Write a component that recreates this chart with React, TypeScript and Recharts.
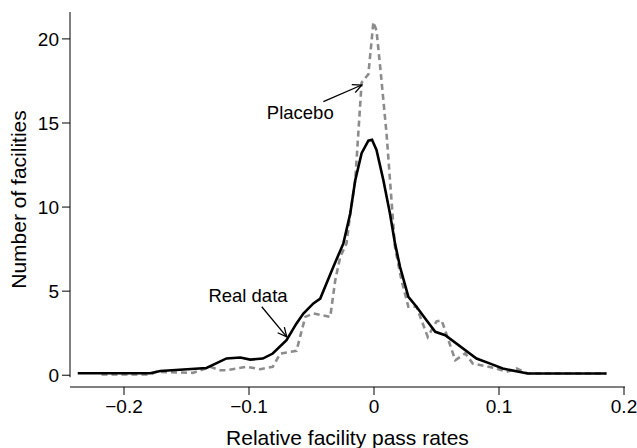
import React from 'react';
import { LineChart, Line, XAxis, YAxis, ReferenceLine, ReferenceDot } from 'recharts';

const realX = [-0.237, -0.179, -0.171, -0.134, -0.118, -0.107, -0.099, -0.089, -0.081, -0.07, -0.062, -0.0565, -0.0485, -0.043, -0.0325, -0.0245, -0.019, -0.015, -0.0099, -0.0045, -0.0016, 0.002, 0.0075, 0.0128, 0.0168, 0.0208, 0.0275, 0.034, 0.042, 0.049, 0.057, 0.082, 0.093, 0.103, 0.123, 0.186];
const realY = [0.12, 0.12, 0.25, 0.43, 1.0, 1.05, 0.93, 0.99, 1.29, 2.08, 3.08, 3.67, 4.27, 4.56, 6.45, 7.84, 9.62, 11.6, 13.2, 13.95, 14.0, 13.4, 11.6, 9.6, 7.84, 6.45, 4.66, 4.07, 3.27, 2.58, 2.38, 0.99, 0.69, 0.4, 0.1, 0.1];

const placeboX = [-0.218, -0.179, -0.174, -0.145, -0.131, -0.123, -0.118, -0.102, -0.091, -0.081, -0.075, -0.067, -0.062, -0.055, -0.0485, -0.035, -0.031, -0.027, -0.022, -0.019, -0.015, -0.0099, -0.0045, -0.0005, 0.002, 0.005, 0.01, 0.0128, 0.0168, 0.022, 0.0275, 0.034, 0.043, 0.05, 0.054, 0.056, 0.065, 0.073, 0.079, 0.098, 0.106, 0.114, 0.123, 0.186];
const placeboY = [0.05, 0.05, 0.2, 0.14, 0.5, 0.3, 0.3, 0.5, 0.36, 0.5, 1.29, 1.39, 1.45, 3.47, 3.67, 3.47, 5.65, 7.04, 7.84, 9.6, 11.6, 17.4, 17.9, 21.0, 20.5, 18.3, 14.4, 11.6, 7.6, 5.65, 4.07, 4.07, 2.28, 3.2, 3.27, 2.87, 0.89, 1.3, 0.7, 0.4, 0.2, 0.4, 0.1, 0.1];

const xTicks = [-0.2, -0.1, 0, 0.1, 0.2];
const yTicks = [0, 5, 10, 15, 20];

const xDomain = [-0.2432, 0.2008];
const yDomain = [-0.7, 21.6];

const realData = realX.map((x, i) => ({ x, y: realY[i] }));
const placeboData = placeboX.map((x, i) => ({ x, y: placeboY[i] }));

const FONT = '"Liberation Sans", Arial, Helvetica, sans-serif';

const fmtX = (v: number) => (v === 0 ? '0' : v < 0 ? '\u2212' + Math.abs(v).toFixed(1) : v.toFixed(1));

const Arrow = (props: any) => {
  const { x1, y1, x2, y2 } = props;
  const a = Math.atan2(y2 - y1, x2 - x1);
  const L = 10;
  const s = 0.45;
  const ax1 = x2 - L * Math.cos(a - s);
  const ay1 = y2 - L * Math.sin(a - s);
  const ax2 = x2 - L * Math.cos(a + s);
  const ay2 = y2 - L * Math.sin(a + s);
  return (
    <g>
      <line x1={x1} y1={y1} x2={x2} y2={y2} stroke="#000" strokeWidth={1.3} />
      <polyline points={`${ax1},${ay1} ${x2},${y2} ${ax2},${ay2}`} fill="none" stroke="#000" strokeWidth={1.3} />
    </g>
  );
};

const AxisLine = (props: any) => {
  const { x1, y1, x2, y2 } = props;
  return <line x1={x1} y1={y1} x2={x2} y2={y2} stroke="#000" strokeWidth={1} />;
};

const makeText = (txt: string) => (props: any) => (
  <text x={props.cx} y={props.cy} textAnchor="middle" dominantBaseline="central" fontFamily={FONT} fontSize={18.5} fill="#000">
    {txt}
  </text>
);

export default function App() {
  return (
    <div style={{ position: 'absolute', left: 0, top: 0, background: '#fff' }}>
      <LineChart width={637} height={448} margin={{ top: 12, right: 12, bottom: 0, left: 0 }}>
        <XAxis
          type="number"
          dataKey="x"
          domain={xDomain}
          ticks={xTicks}
          allowDataOverflow
          tickFormatter={fmtX}
          height={61}
          tickSize={8}
          tickMargin={5}
          stroke="#000"
          tick={{ fill: '#000', fontSize: 19, fontFamily: FONT }}
          label={{
            content: (p: any) => {
              const vb = p.viewBox;
              return (
                <text x={vb.x + vb.width / 2} y={437} textAnchor="middle" dominantBaseline="central" fontFamily={FONT} fontSize={21} fill="#000">
                  Relative facility pass rates
                </text>
              );
            },
          }}
        />
        <YAxis
          type="number"
          domain={yDomain}
          ticks={yTicks}
          allowDataOverflow
          width={70}
          tickSize={8}
          tickMargin={3}
          axisLine={false}
          stroke="#000"
          tick={{ fill: '#000', fontSize: 19, fontFamily: FONT }}
          label={{
            content: (p: any) => {
              const vb = p.viewBox;
              const cy = vb.y + vb.height / 2;
              return (
                <text x={18} y={cy} transform={`rotate(-90, 18, ${cy})`} textAnchor="middle" dominantBaseline="central" fontFamily={FONT} fontSize={21} fill="#000">
                  Number of facilities
                </text>
              );
            },
          }}
        />
        <ReferenceLine segment={[{ x: xDomain[0], y: -0.12 }, { x: xDomain[0], y: yDomain[1] }]} shape={AxisLine} ifOverflow="visible" />
        <Line data={placeboData} dataKey="y" type="linear" stroke="#8c8c8c" strokeWidth={2.6} strokeDasharray="6 4" dot={false} isAnimationActive={false} />
        <Line data={realData} dataKey="y" type="linear" stroke="#000" strokeWidth={2.6} dot={false} isAnimationActive={false} />
        <ReferenceLine segment={[{ x: -0.0405, y: 16.27 }, { x: -0.0098, y: 17.26 }]} shape={Arrow} ifOverflow="visible" />
        <ReferenceLine segment={[{ x: -0.0898, y: 4.07 }, { x: -0.0698, y: 2.28 }]} shape={Arrow} ifOverflow="visible" />
        <ReferenceDot x={-0.059} y={15.65} shape={makeText('Placebo')} ifOverflow="visible" />
        <ReferenceDot x={-0.1008} y={4.76} shape={makeText('Real data')} ifOverflow="visible" />
      </LineChart>
    </div>
  );
}
